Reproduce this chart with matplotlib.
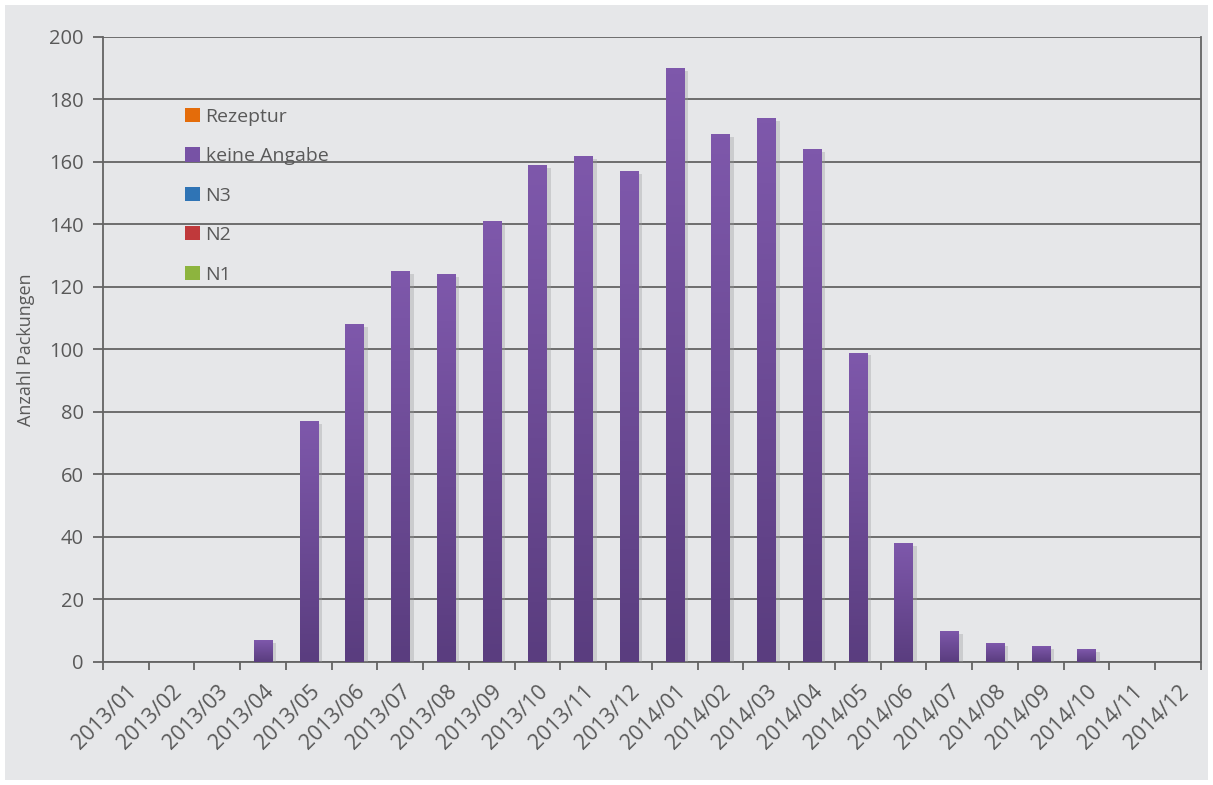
import matplotlib.pyplot as plt
import matplotlib.patheffects as pe
from matplotlib.colors import LinearSegmentedColormap
from matplotlib.patches import Rectangle
import numpy as np

plt.rcParams['font.family'] = ['Open Sans', 'DejaVu Sans']

months = ['2013/01', '2013/02', '2013/03', '2013/04', '2013/05', '2013/06',
          '2013/07', '2013/08', '2013/09', '2013/10', '2013/11', '2013/12',
          '2014/01', '2014/02', '2014/03', '2014/04', '2014/05', '2014/06',
          '2014/07', '2014/08', '2014/09', '2014/10', '2014/11', '2014/12']

n1 = [0] * 24
n2 = [0] * 24
n3 = [0] * 24
keine_angabe = [0, 0, 0, 7, 77, 108, 125, 124, 141, 159, 162, 157,
                190, 169, 174, 164, 99, 38, 10, 6, 5, 4, 0, 0]
rezeptur = [0] * 24

series_names = ['N1', 'N2', 'N3', 'keine Angabe', 'Rezeptur']
series_values = [n1, n2, n3, keine_angabe, rezeptur]
series_colors = ['#8db43e', '#c0393b', '#2f74b5', '#7752a5', '#e46c0a']

bg = '#e6e7e9'
grid_col = '#646464'
text_col = '#595959'

fig = plt.figure(figsize=(12.13, 7.85), dpi=100, facecolor='white')
fig.patches.append(Rectangle((0.004, 0.006), 0.992, 0.988, transform=fig.transFigure,
                             facecolor=bg, edgecolor='none', zorder=-10))
ax = fig.add_axes([0.0849, 0.1567, 0.9052, 0.7962])
ax.set_facecolor(bg)

x = np.arange(len(months))
bottom = np.zeros(len(months))
handles = []
purple_grad = LinearSegmentedColormap.from_list('pg', ['#5a3d7f', '#7e58ab'])
for name, vals, col in zip(series_names, series_values, series_colors):
    vals = np.array(vals, dtype=float)
    bars = ax.bar(x, vals, width=0.4, bottom=bottom, color=col, edgecolor='none',
                  label=name, zorder=3)
    if name == 'keine Angabe':
        for b in bars:
            if b.get_height() <= 0:
                continue
            b.set_path_effects([pe.SimplePatchShadow(offset=(3, -2), shadow_rgbFace='#9a9a9c',
                                                     alpha=0.35), pe.Normal()])
            x0, y0 = b.get_x(), b.get_y()
            w, h = b.get_width(), b.get_height()
            grad = np.linspace(0, 1, 100).reshape(-1, 1)
            im = ax.imshow(grad, cmap=purple_grad, origin='lower', aspect='auto',
                           extent=(x0, x0 + w, y0, y0 + h), zorder=4)
            im.set_clip_path(b)
    handles.append(bars)
    bottom += vals

ax.set_xlim(-0.5, len(months) - 0.5)
ax.set_ylim(0, 200)
ax.set_yticks(np.arange(0, 201, 20))
ax.yaxis.grid(True, color=grid_col, linewidth=1.3, zorder=1)
ax.set_axisbelow(True)

ax.set_xticks(x)
ax.set_xticklabels(months, rotation=45, ha='right', rotation_mode='anchor',
                   fontsize=15.5, color=text_col)
ax.set_xticks(np.arange(-0.5, len(months)), minor=True)
ax.tick_params(axis='x', which='major', length=0, pad=14)
ax.tick_params(axis='x', which='minor', length=6, width=1.3, color=grid_col, direction='out')
ax.tick_params(axis='y', length=7, width=1.3, color=grid_col, labelsize=14.5,
               labelcolor=text_col, pad=7)

for s in ['left', 'bottom', 'right']:
    ax.spines[s].set_color(grid_col)
    ax.spines[s].set_linewidth(1.3)
ax.spines['top'].set_visible(False)

ax.set_ylabel('Anzahl Packungen', fontsize=13, color=text_col, labelpad=10)

leg = ax.legend(handles[::-1], series_names[::-1], loc='upper left',
                bbox_to_anchor=(0.066, 0.902), frameon=False, fontsize=14,
                labelcolor=text_col, handlelength=0.75, handleheight=0.75,
                handletextpad=0.3, labelspacing=1.1, borderpad=0)

fig.savefig('out.png', dpi=100, facecolor='white')
